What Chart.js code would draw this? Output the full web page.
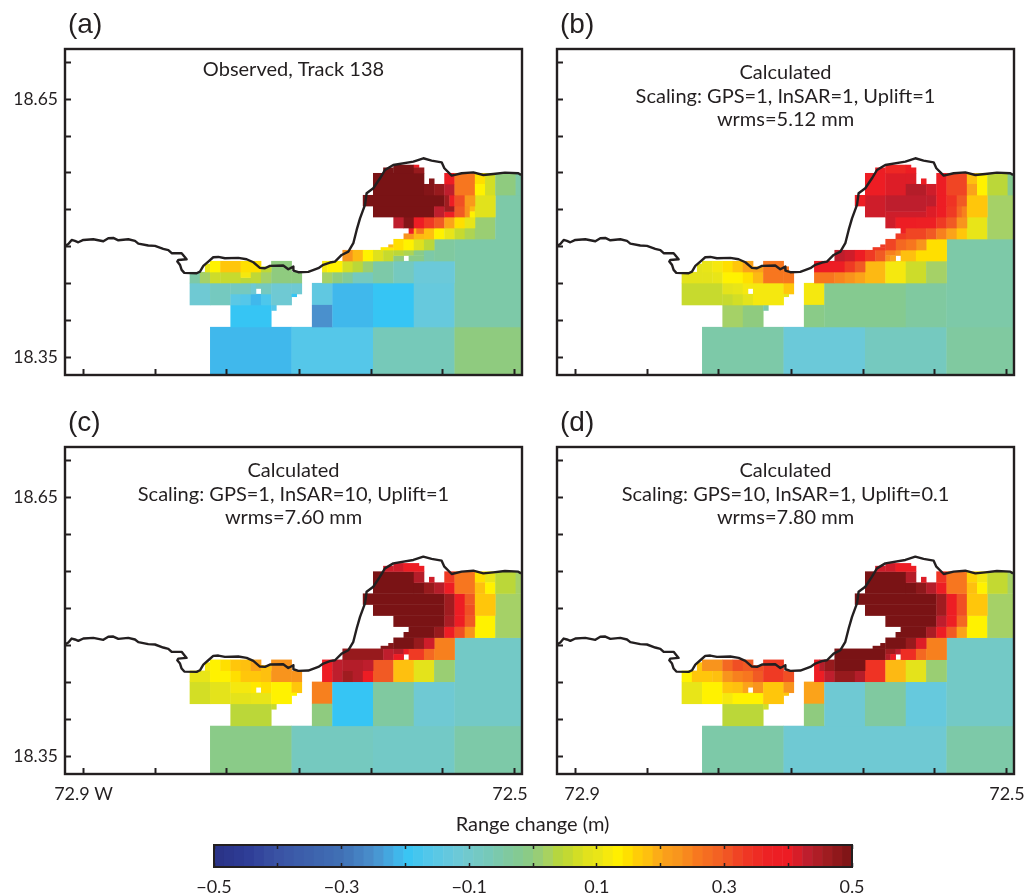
<!DOCTYPE html>
<html>
<head>
<meta charset="utf-8">
<title>Range change</title>
<script src="https://cdn.jsdelivr.net/npm/chart.js@4"></script>
<style>
  html, body { margin: 0; background: #fff; }
  #page { position: relative; width: 1028px; height: 896px; overflow: hidden; }
  canvas { position: absolute; }
</style>
</head>
<body>
<div id="page">
  <canvas id="chartA"></canvas>
  <canvas id="chartB"></canvas>
  <canvas id="chartC"></canvas>
  <canvas id="chartD"></canvas>
  <canvas id="colorbar"></canvas>
</div>
<script>
// axes
var lonTicks = [72.9, 72.8333, 72.7667, 72.7, 72.6333, 72.5667, 72.5];
var latTicks = [18.35, 18.3929, 18.4357, 18.4786, 18.5214, 18.5643, 18.6071, 18.65, 18.6929];
var latLabels = {18.35: '18.35', 18.65: '18.65'};
var barTicks = [-0.5, -0.4, -0.3, -0.2, -0.1, 0, 0.1, 0.2, 0.3, 0.4, 0.5];
var barLabels = {'-0.5': '\u22120.5', '-0.3': '\u22120.3', '-0.1': '\u22120.1', '0.1': '0.1', '0.3': '0.3', '0.5': '0.5'};

// colour scale
var scaleValues = [-0.5, -0.45, -0.4, -0.3, -0.25, -0.21, -0.2, -0.16, -0.12, -0.1, -0.07, -0.05, -0.02, 0, 0.02, 0.04, 0.06, 0.08, 0.1, 0.115, 0.13, 0.15, 0.17, 0.19, 0.2, 0.23, 0.26, 0.3, 0.33, 0.37, 0.4, 0.43, 0.46, 0.5];
var scaleColors = ['#2a3285', '#2e3c96', '#3a53a4', '#4070b5', '#4a90cd', '#40b8ec', '#36c5f4', '#55c7e9', '#6bc9d9', '#72c9cc', '#76c9b9', '#7dc9a8', '#85ca90', '#8fcb7f', '#a5d167', '#b7d63d', '#c7da2e', '#dfe11d', '#e8e518', '#f5e80f', '#fff200', '#ffdf00', '#ffc60b', '#fdb913', '#fba31a', '#f8941d', '#f7761f', '#f15a24', '#ef3a24', '#ed2024', '#ed1c24', '#be1e2d', '#a01c20', '#7a1315'];

// coastline, degrees W / N
var coastLon = [72.9167, 72.9136, 72.9105, 72.9075, 72.9044, 72.8997, 72.8905, 72.8812, 72.8766, 72.872, 72.8673, 72.8581, 72.8519, 72.8488, 72.8396, 72.8334, 72.8257, 72.821, 72.8179, 72.8087, 72.8056, 72.8041, 72.8118, 72.8127, 72.8102, 72.8087, 72.8062, 72.7948, 72.7917, 72.7886, 72.784, 72.7794, 72.7747, 72.7686, 72.7562, 72.7485, 72.7423, 72.7362, 72.7315, 72.7269, 72.7146, 72.7099, 72.7052, 72.7052, 72.7006, 72.6914, 72.6821, 72.6775, 72.6713, 72.6667, 72.6605, 72.6543, 72.6497, 72.6466, 72.6435, 72.6389, 72.6374, 72.6312, 72.625, 72.6204, 72.6127, 72.5941, 72.5849, 72.5772, 72.5679, 72.5654, 72.5586, 72.5494, 72.5386, 72.5293, 72.5201, 72.5093, 72.4969, 72.4944];
var coastLat = [18.4797, 18.482, 18.4866, 18.4855, 18.4839, 18.4866, 18.4874, 18.4851, 18.4886, 18.4889, 18.4862, 18.4874, 18.4855, 18.4824, 18.4801, 18.4797, 18.4762, 18.4747, 18.4712, 18.4712, 18.4665, 18.4642, 18.4634, 18.4615, 18.4577, 18.4519, 18.4484, 18.448, 18.4499, 18.4565, 18.4615, 18.4665, 18.4669, 18.4654, 18.4658, 18.4642, 18.4607, 18.4542, 18.4538, 18.4565, 18.4569, 18.4526, 18.4557, 18.4511, 18.4492, 18.4496, 18.4538, 18.4577, 18.4604, 18.4615, 18.4692, 18.4731, 18.4828, 18.4982, 18.5117, 18.5272, 18.5407, 18.5465, 18.5581, 18.5677, 18.5735, 18.5774, 18.5813, 18.5786, 18.5766, 18.5697, 18.5612, 18.5639, 18.565, 18.5619, 18.5631, 18.5646, 18.5639, 18.5619];

// quadtree grid of the InSAR samples: origin and finest step, degrees
var gridLon0 = 72.7824, gridLonStep = 0.004716;
var gridLat0 = 18.3858, gridLatStep = 0.006373;

// cells: [col from, col to, row from, row to, range change in m]
var cellsA = [
  [0,16,-16,0,-.21],[16,32,-16,0,-.16],[32,48,-16,0,-.07],[48,64,-16,0,0],
  [4,12,0,4,-.2],[12,13,3,4,-.16],
  [-4,0,4,8,-.11],[0,4,4,8,-.08],[4,6,4,6,-.15],[6,8,4,6,-.16],[8,10,4,6,-.21],[10,12,4,6,-.17],
  [4,8,6,8,-.08],[8,9,6,8,-.11],[9,10,7,8,-.08],[10,12,6,8,-.08],[12,16,4,8,-.11],[16,18,6,8,-.11],[16,17,5.5,6,-.2],
  [20,24,4,8,-.14],[20,24,0,4,-.25],[24,32,0,8,-.21],[32,40,0,8,-.2],[40,48,0,8,-.13],[48,64,0,16,-.05],
  [-4,-2,8,10,-.05],[-2,0,8,10,.02],[0,2,8,10,.065],[2,6,8,10,.06],[6,8,8,9,.045],[6,8,9,10,.115],[8,10,8,10,.05],[10,12,8,10,.02],[12,16,8,12,0],[16,18,8,10,0],
  [-1,0,10,11.5,.1],[0,2,10,12,.13],[2,6,10,12,.17],[6,10,10,12,.15],[10,12,10,11,.05],
  [22,24,8,10,.02],[24,26,8,10,0],[26,28,8,10,-.03],[28,32,8,10,-.08],
  [22,23,10,12,.115],[23,26,10,12,.13],[26,28,10,12,.07],[28,30,10,12,.045],[30,32,10,12,.01],[32,36,8,12,-.05],[36,40,8,12,-.08],[40,48,8,12,-.12],
  [26,28,12,14,.23],[28,30,12,14,.19],[30,32,12,14,.13],[32,34,12,14,.08],[34,36,12,14,.06],
  [36,38,12,13,0],[36,38,13,14,.045],[38,40,13,14,.03],[39,42,12,13,-.01],[40,42,13,14,-.01],[42,44,12,14,-.05],[44,48,12,16,-.04],
  [33.5,36,14,14.5,.14],[35,36,14.5,15,.19],[36,38,14,16,.15],[38,40,14,16,.13],[40,42,14,16,.08],[42,44,14,16,.045],
  [38,40,16,17,.23],[39,40,17,18,.39],[40,42,16,18,.19],[40.5,42,17,18,.26],[42,44,16,18,.18],[44,46,16,18,.13],[46,48,16,18,.1],[48,50,16,18,.06],[50,52,16,18,.03],[52,56,16,20,.01],[56,64,16,24,-.05],
  [36,38,18,20,.43],[38,40,18,20,.49],[40,42,18,20,.39],[42,44,18,20,.33],[44,46,18,20,.3],[46,48,18,20,.2],[48,50,18,20,.15],[50,52,18,20,.1],
  [32,44,20,22,.5],[44,46,20,22,.43],[46,48,20,21,.38],[46,48,21,22,.46],[48,50,20,22,.3],[50,51,20,22,.23],[51,52,21,22,.19],[51,52,20,21,.13],[52,56,20,24,.085],
  [30,46,22,24,.5],[46,47,22,24,.46],[47,48,22,24,.39],[48,50,22,24,.31],[50,52,22,24,.22],
  [32,42,24,28,.5],[42,44,24,26,.49],[44,46,24,26,.47],[46,48,24,26,.43],[46,48,26,28,.39],[48,52,24,28,.26],[52,54,26,28,.15],[52,54,24,26,.13],[54,56,24,28,.07],[56,60,24,28,0],[60,64,24,28,-.05],
  [43,44,26,27,.49],
  [34,36,28,29,.5],[36,40,28,29.5,.5],[40,41,29,29.5,.39],[40,42,28,29,.47]
];
var cellsB = [
  [0,16,-16,0,-.05],[16,32,-16,0,-.12],[32,48,-16,0,-.08],[48,64,-16,0,-.04],
  [4,8,0,4,.02],[8,12,0,4,0],[12,13,3,4,-.05],
  [-4,4,4,8,.06],[4,6,4,6,.06],[6,8,4,6,.07],[8,10,4,6,.09],[10,16,4,8,.115],
  [4,6,6,8,.09],[6,8,6,8,.1],[8,9,6,8,.115],[9,10,7,8,.115],[16,18,6,8,.17],[16,17,5.5,6,.1],
  [20,24,4,8,.115],[20,24,0,4,-.01],[24,40,0,8,-.02],[40,48,0,8,-.04],[48,64,0,16,-.05],
  [-4,0,8,10,.09],[0,2,8,10,.09],[2,4,8,10,.1],[4,8,8,10,.13],[8,10,8,10,.15],[10,12,8,10,.19],[12,16,8,10,.26],[16,18,8,10,.26],
  [-1,0,10,11.5,.09],[0,2,10,12,.1],[2,4,10,12,.115],[4,6,10,12,.15],[6,8,10,12,.17],[8,10,10,12,.2],[10,12,10,11,.2],[12,16,10,12,.26],[16,17,10,11,.26],
  [22,26,8,10,.26],[26,28,8,10,.245],[28,30,8,10,.23],[30,32,8,10,.2],[32,36,8,12,.19],[36,40,8,12,.115],[40,44,8,12,.065],[44,48,8,12,.02],
  [22,28,10,12,.39],[28,30,10,12,.33],[30,32,10,12,.3],
  [26,28,12,14,.43],[28,30,12,14,.42],[30,32,12,14,.39],[32,34,12,14,.33],[34,36,12,14,.3],
  [36,38,13,14,.25],[36,37,12,13,.23],[37,38,12,13,.2],[38,39,13,14,.23],[39,42,12,14,.18],[42,48,12,14,.15],
  [44,48,14,16,.15],[42,44,14,16,.23],[40,42,14,16,.26],[38,40,14,16,.28],[36,38,14,16,.32],[33.5,36,14,14.5,.33],[35,36,14.5,15,.33],
  [38,40,16,17,.33],[39,40,17,18,.37],[40,44,16,18,.32],[44,46,16,18,.3],[46,48,16,18,.25],[48,50,16,18,.2],[50,52,16,18,.17],[52,56,16,20,.1],[56,64,16,24,.02],
  [36,38,18,20,.42],[38,42,18,20,.39],[42,46,18,20,.38],[46,48,18,20,.33],[48,50,18,20,.3],[50,52,18,20,.23],
  [32,36,20,24,.42],[30,32,22,24,.39],[36,44,21,24,.43],[36,44,20,21,.42],[44,46,20,22,.41],[46,48,20,22,.39],[48,50,20,22,.33],[50,51,20,22,.28],[51,52,20,22,.25],
  [44,46,22,24,.43],[46,48,22,24,.39],[48,50,22,24,.34],[50,52,22,24,.3],[52,56,20,24,.17],
  [32,36,24,28,.39],[36,40,24,28,.41],[40,42,26,28,.41],[40,44,24,26,.44],[44,46,24,26,.42],[46,48,24,28,.39],[48,52,24,28,.32],[52,54,26,28,.18],[52,54,24,26,.2],[54,56,24,28,.13],[56,60,24,28,.045],[60,64,24,28,-.02],
  [43,44,26,27,.39],
  [34,36,28,29,.39],[36,40,28,29.5,.36],[40,41,28,29.5,.39],[41,42,28,29,.39]
];
var cellsC = [
  [0,16,-16,0,-.01],[16,32,-16,0,-.08],[32,48,-16,0,-.09],[48,64,-16,0,-.05],
  [4,12,0,4,.045],[12,13,3,4,.06],
  [-4,0,4,8,.07],[0,4,4,8,.09],[4,8,4,6,.09],[8,12,4,6,.1],[4,8,6,8,.115],[8,9,6,8,.14],[9,10,7,8,.14],[10,12,6,8,.15],[12,16,4,8,.13],[16,18,6,8,.17],[16,17,5.5,6,.13],
  [20,24,4,8,.25],[20,24,0,4,0],[24,32,0,8,-.2],[32,40,0,8,-.04],[40,48,0,8,-.11],[48,64,0,16,-.09],
  [-4,0,8,10,.1],[0,4,8,10,.13],[4,6,8,10,.15],[6,10,8,10,.17],[10,12,8,10,.18],[12,16,8,12,.23],[16,18,8,10,.23],
  [-1,0,10,11.5,.115],[0,2,10,12,.13],[2,4,10,12,.15],[4,6,10,12,.17],[6,8,10,12,.18],[8,10,10,12,.2],[10,12,10,11,.18],
  [22,24,8,10,.39],[24,26,8,10,.43],[26,28,8,10,.46],[28,30,8,10,.44],[30,32,8,10,.39],[32,36,8,12,.3],[36,40,8,12,.18],[40,44,8,12,.09],[44,48,8,12,.01],
  [22,24,10,12,.39],[24,26,10,12,.43],[26,30,10,12,.44],[30,32,10,12,.43],
  [26,34,12,14,.47],[34,36,12,14,.43],[36,38,13,14,.44],[36,38,12,13,.4],[38,39,13,14,.4],[39,42,12,14,.33],[42,44,12,14,.28],[44,48,12,16,.25],
  [33.5,36,14,14.5,.49],[35,36,14.5,15,.49],[36,40,14,16,.5],[40,42,14,16,.47],[42,44,14,16,.42],
  [38,39,16,17,.5],[39,44,16,18,.5],[44,46,16,18,.47],[46,48,16,18,.39],[48,50,16,18,.31],[50,52,16,18,.23],[52,56,16,20,.13],[56,64,16,24,.02],
  [36,46,18,20,.5],[46,48,18,20,.45],[48,50,18,20,.39],[50,52,18,20,.3],
  [32,46,20,22,.5],[30,46,22,24,.5],[46,48,20,24,.46],[48,50,20,24,.39],[50,52,20,22,.31],[50,52,22,24,.3],[52,56,20,24,.17],
  [32,40,24,28,.5],[40,42,24,26,.5],[40,42,26,28,.44],[42,44,24,26,.47],[44,46,24,26,.44],[46,48,24,26,.39],[46,48,26,28,.33],[48,52,24,28,.26],[52,54,26,28,.15],[52,54,24,26,.18],[54,56,26,28,.1],[54,56,24,26,.13],[56,60,24,28,.045],[60,64,24,28,.02],
  [43,44,26,27,.42],
  [34,36,28,29,.42],[36,38,28,29.5,.42],[38,41,28,29.5,.39],[41,42,28,29,.39]
];
var cellsD = [
  [0,16,-16,0,-.05],[16,32,-16,0,-.11],[32,48,-16,0,-.11],[48,64,-16,0,-.05],
  [4,12,0,4,.045],[12,13,3,4,.07],
  [-4,0,4,8,.1],[0,4,4,8,.13],[4,6,4,6,.115],[6,12,4,6,.13],[4,6,6,8,.17],[6,8,6,8,.18],[8,9,6,8,.2],[9,10,7,8,.2],[10,12,6,8,.23],[12,16,4,8,.17],[16,18,6,8,.23],[16,17,5.5,6,.17],
  [20,24,4,8,.2],[20,24,0,4,0],[24,32,0,8,-.11],[32,40,0,8,-.04],[40,48,0,8,-.13],[48,64,0,16,-.09],
  [-4,-2,8,10,.13],[-2,2,8,10,.17],[2,4,8,10,.18],[4,6,8,10,.23],[6,8,8,10,.25],[8,10,8,10,.26],[10,12,8,10,.3],[12,16,8,12,.33],[16,18,8,10,.31],
  [-1,0,10,11.5,.17],[0,4,10,12,.23],[4,6,10,12,.28],[6,8,10,12,.31],[8,10,10,12,.3],[10,12,10,11,.31],
  [22,24,8,10,.39],[24,26,8,10,.43],[26,30,8,10,.47],[30,32,8,10,.44],[32,36,8,12,.34],[36,40,8,12,.19],[40,44,8,12,.09],[44,48,8,12,.01],
  [22,23,10,12,.39],[23,24,10,12,.44],[24,26,10,12,.47],[26,32,10,12,.5],
  [26,36,12,14,.5],[36,38,13,14,.46],[36,37,12,13,.44],[37,38,12,13,.4],[38,39,13,14,.43],[39,42,12,14,.35],[42,44,12,14,.28],[44,48,12,16,.25],
  [33.5,36,14,14.5,.5],[35,36,14.5,15,.5],[36,40,14,16,.5],[40,42,14,16,.47],[42,44,14,16,.41],
  [38,39,16,17,.5],[39,44,16,18,.5],[44,46,16,18,.45],[46,48,16,18,.39],[48,50,16,18,.3],[50,52,16,18,.2],[52,56,16,20,.13],[56,64,16,24,.02],
  [36,46,18,20,.5],[46,48,18,20,.43],[48,50,18,20,.38],[50,52,18,20,.28],
  [32,46,20,22,.5],[30,46,22,24,.5],[46,48,20,24,.46],[48,50,20,24,.39],[50,52,20,24,.31],[52,56,20,24,.17],
  [32,40,24,28,.5],[40,42,24,26,.5],[40,42,26,28,.44],[42,44,24,26,.48],[44,46,24,26,.44],[46,48,24,26,.39],[46,48,26,28,.34],[48,52,24,28,.26],[52,54,26,28,.16],[52,54,24,26,.18],[54,56,26,28,.11],[54,56,24,26,.13],[56,60,24,28,.055],[60,64,24,28,.02],
  [43,44,26,27,.41],
  [34,36,28,29,.42],[36,38,28,29.5,.42],[38,41,28,29.5,.39],[41,42,28,29,.39]
];

var notesA = ['Observed, Track 138'];
var notesB = ['Calculated', 'Scaling: GPS=1, InSAR=1, Uplift=1', 'wrms=5.12 mm'];
var notesC = ['Calculated', 'Scaling: GPS=1, InSAR=10, Uplift=1', 'wrms=7.60 mm'];
var notesD = ['Calculated', 'Scaling: GPS=10, InSAR=1, Uplift=0.1', 'wrms=7.80 mm'];

var textFont = 'Lato, sans-serif';
var inkColor = '#231f20';

function hexToRgb(h) {
  return [parseInt(h.substr(1, 2), 16), parseInt(h.substr(3, 2), 16), parseInt(h.substr(5, 2), 16)];
}

function colorFor(v) {
  var i = 0;
  while (i < scaleValues.length - 2 && v > scaleValues[i + 1]) i++;
  var t = (v - scaleValues[i]) / (scaleValues[i + 1] - scaleValues[i]);
  t = Math.max(0, Math.min(1, t));
  var a = hexToRgb(scaleColors[i]), b = hexToRgb(scaleColors[i + 1]);
  return 'rgb(' + Math.round(a[0] + (b[0] - a[0]) * t) + ',' + Math.round(a[1] + (b[1] - a[1]) * t) + ',' + Math.round(a[2] + (b[2] - a[2]) * t) + ')';
}

/* draws the sample cells under the coast line, through the chart's scales */
var cellPlugin = {
  id: 'cellPlugin',
  beforeDatasetsDraw: function(chart, args, opts) {
    if (!opts.cells) return;
    var ctx = chart.ctx, area = chart.chartArea, xs = chart.scales.x, ys = chart.scales.y;
    ctx.save();
    ctx.beginPath();
    ctx.rect(area.left, area.top, area.right - area.left, area.bottom - area.top);
    ctx.clip();
    opts.cells.forEach(function(c) {
      var x0 = xs.getPixelForValue(gridLon0 - c[0] * gridLonStep);
      var x1 = xs.getPixelForValue(gridLon0 - c[1] * gridLonStep);
      var y0 = ys.getPixelForValue(gridLat0 + c[3] * gridLatStep);
      var y1 = ys.getPixelForValue(gridLat0 + c[2] * gridLatStep);
      ctx.fillStyle = colorFor(c[4]);
      // a bit of overlap so no hairlines show between cells
      ctx.fillRect(x0, y0, x1 - x0 + 0.4, y1 - y0 + 0.4);
    });
    ctx.restore();
  }
};

/* frame and the panel texts */
var framePlugin = {
  id: 'framePlugin',
  afterDraw: function(chart, args, opts) {
    var ctx = chart.ctx, area = chart.chartArea;
    ctx.save();
    ctx.strokeStyle = inkColor;
    ctx.lineWidth = opts.lineWidth;
    ctx.strokeRect(area.left, area.top, area.right - area.left, area.bottom - area.top);
    ctx.fillStyle = inkColor;
    ctx.textBaseline = 'middle';
    if (opts.letter) {
      ctx.textAlign = 'left';
      ctx.font = '28px "Liberation Sans", sans-serif';
      ctx.fillText(opts.letter, area.left + 3, area.top - 24);
    }
    ctx.textAlign = 'center';
    ctx.font = '20px ' + textFont;
    (opts.notes || []).forEach(function(line, i) {
      ctx.fillText(line, (area.left + area.right) / 2 + (opts.notesDx || 0), area.top + opts.notesTop + i * 23.5);
    });
    if (opts.heading) ctx.fillText(opts.heading, (area.left + area.right) / 2 - 0.5, area.top - 20);
    // the end labels of the longitude axis sit off their ticks in the original
    ctx.font = '18px ' + textFont;
    (opts.lonLabels || []).forEach(function(l) {
      ctx.fillText(l[1], chart.scales.x.getPixelForValue(l[0]) + l[2], area.bottom + 20);
    });
    ctx.restore();
  }
};

function fixedTicks(list) {
  return function(scale) {
    scale.ticks = list.map(function(v) { return {value: v}; });
  };
}

function noMargins(scale) {
  scale.paddingLeft = scale.paddingRight = scale.paddingTop = scale.paddingBottom = 0;
}

function axisGrid() {
  return {drawOnChartArea: false, drawTicks: true, tickLength: -6, tickWidth: 2, tickColor: inkColor, z: 1};
}

function makePanel(id, left, top, height, letter, cells, notes, showLat, lonLabels) {
  var canvas = document.getElementById(id);
  canvas.width = 540;
  canvas.height = top === 0 ? 392 : 408;
  canvas.style.left = left + 'px';
  canvas.style.top = top + 'px';
  var points = coastLon.map(function(lon, i) { return {x: lon, y: coastLat[i]}; });
  return new Chart(canvas.getContext('2d'), {
    type: 'scatter',
    data: {
      datasets: [{
        label: 'Coastline',
        data: points,
        showLine: true,
        pointRadius: 0,
        borderColor: inkColor,
        borderWidth: 2.4,
        borderJoinStyle: 'round',
        tension: 0
      }]
    },
    options: {
      responsive: false,
      animation: false,
      layout: {padding: {top: 49, right: 18, left: 0, bottom: 0}},
      plugins: {
        legend: {display: false},
        tooltip: {enabled: false},
        cellPlugin: {cells: cells},
        framePlugin: {lineWidth: 2.4, letter: letter, notes: notes, notesTop: notes.length === 1 ? 21 : 24, lonLabels: lonLabels}
      },
      scales: {
        x: {
          type: 'linear',
          reverse: true,
          min: 72.4935,
          max: 72.9167,
          afterBuildTicks: fixedTicks(lonTicks),
          afterFit: function(scale) { noMargins(scale); scale.height = canvas.height - 49 - height; },
          border: {display: false},
          grid: axisGrid(),
          ticks: {
            autoSkip: false,
            maxRotation: 0,
            callback: function() { return ''; }
          }
        },
        y: {
          type: 'linear',
          min: 18.330,
          max: 18.708,
          afterBuildTicks: fixedTicks(latTicks),
          afterFit: function(scale) { noMargins(scale); scale.width = 65; },
          border: {display: false},
          grid: axisGrid(),
          ticks: {
            autoSkip: false,
            padding: 13,
            color: inkColor,
            font: {family: textFont, size: 17.5},
            callback: function(v) { return showLat ? (latLabels[v] || '') : ''; }
          }
        }
      }
    },
    plugins: [cellPlugin, framePlugin]
  });
}

Chart.register(cellPlugin, framePlugin);

makePanel('chartA', 0, 0, 326, '(a)', cellsA, notesA, true, []);
makePanel('chartB', 492, 0, 326, '(b)', cellsB, notesB, false, []);
makePanel('chartC', 0, 398, 327, '(c)', cellsC, notesC, true, [[72.9, '72.9 W', 0.5], [72.5, '72.5', -5]]);
makePanel('chartD', 492, 398, 327, '(d)', cellsD, notesD, false, [[72.9, '72.9', 7], [72.5, '72.5', 0]]);

// colour bar: one narrow band per step of the scale
var barCanvas = document.getElementById('colorbar');
barCanvas.width = 720;
barCanvas.height = 90;
barCanvas.style.left = '173px';
barCanvas.style.top = '806px';
var bandEdges = [];
for (var b = 0; b <= 64; b++) bandEdges.push(-0.5 + b / 64);

var bandPlugin = {
  id: 'bandPlugin',
  beforeDatasetsDraw: function(chart) {
    var ctx = chart.ctx, xs = chart.scales.x, area = chart.chartArea;
    for (var i = 0; i < bandEdges.length - 1; i++) {
      var x0 = xs.getPixelForValue(bandEdges[i]), x1 = xs.getPixelForValue(bandEdges[i + 1]);
      ctx.fillStyle = colorFor((bandEdges[i] + bandEdges[i + 1]) / 2);
      ctx.fillRect(x0, area.top, x1 - x0 + 0.5, area.bottom - area.top);
    }
  }
};

new Chart(barCanvas.getContext('2d'), {
  type: 'scatter',
  data: {datasets: [{label: 'Range change (m)', data: [], pointRadius: 0}]},
  options: {
    responsive: false,
    animation: false,
    layout: {padding: {top: 39, left: 41, right: 41, bottom: 0}},
    plugins: {
      legend: {display: false},
      tooltip: {enabled: false},
      framePlugin: {lineWidth: 2, heading: 'Range change (m)', notes: []}
    },
    scales: {
      x: {
        type: 'linear',
        min: -0.5,
        max: 0.5,
        afterBuildTicks: fixedTicks(barTicks),
        afterFit: function(scale) { noMargins(scale); scale.height = 90 - 39 - 22; },
        border: {display: false},
        grid: {drawOnChartArea: false, tickLength: -4, tickWidth: 1.5, tickColor: inkColor, z: 1},
        ticks: {
          autoSkip: false,
          maxRotation: 0,
          padding: 13,
          color: inkColor,
          font: {family: textFont, size: 18},
          callback: function(v) { return barLabels[String(Math.round(v * 10) / 10)] || ''; }
        }
      },
      xTop: {
        type: 'linear',
        position: 'top',
        min: -0.5,
        max: 0.5,
        afterBuildTicks: fixedTicks(barTicks),
        afterFit: function(scale) { noMargins(scale); scale.height = 0; },
        border: {display: false},
        grid: {drawOnChartArea: false, tickLength: -4, tickWidth: 1.5, tickColor: inkColor, z: 1},
        ticks: {display: false}
      },
      y: {display: false, min: 0, max: 1}
    }
  },
  plugins: [bandPlugin]
});
</script>
</body>
</html>
